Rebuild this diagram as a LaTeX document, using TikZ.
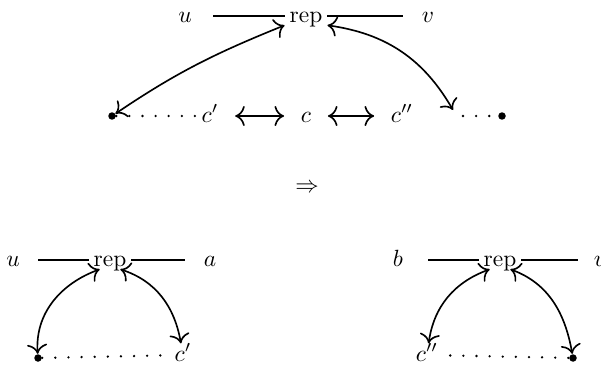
\documentclass[tikz,border=0pt]{standalone}
\usepackage{amsmath,amssymb}
\usepackage{xcolor}
\usepackage{tikz}
\usetikzlibrary{arrows.meta,calc}

\begin{document}
\begin{tikzpicture}[
    x=0.015cm, y=-0.015cm,
    var/.style={inner xsep=3pt, inner ysep=1pt, text height=1.5ex, text depth=0.25ex},
    word/.style={inner xsep=2pt, inner ysep=0pt, text height=1.5ex, text depth=0.25ex},
    pt/.style={circle, fill, inner sep=0pt, minimum size=3.2pt},
    bar/.style={line width=0.7pt},
    arr/.style={{To[scale=1.3]}-{To[scale=1.3]}, line width=0.7pt},
    dots/.style={line width=1.1pt, line cap=round, dash pattern=on 0pt off 5.6pt},
  ]
  \useasboundingbox (0,0) rectangle (601,371);
  % before
  \node[var]  (u)   at (185,16)  {$u$};
  \node[word] (rep) at (306,16)  {rep};
  \node[var]  (v)   at (428,16)  {$v$};
  \node[pt]   (dotL) at (112,116) {};
  \node[var]  (c1)  at (210,116) {$c'$};
  \node[var]  (c)   at (306,116) {$c$};
  \node[var]  (c2)  at (402,116) {$c''$};
  \node[pt]   (dotR) at (502,116) {};
  \coordinate (tipR)  at (453,110);
  \coordinate (gapR)  at (463,116);

  \draw[bar, shorten <=6pt] (u) -- (rep);
  \draw[bar, shorten >=4.7pt] (rep) -- (v);
  \draw[arr] (dotL) to[out=34, in=202] (rep.south west);
  \draw[arr] (rep.south east) to[out=-8, in=120] (tipR);
  \draw[dots, shorten >=-4pt] (dotL) -- (c1);
  \draw[dots] (gapR) -- (dotR);
  \draw[arr, shorten <=4pt, shorten >=4pt] (c1) -- (c);
  \draw[arr, shorten <=4pt, shorten >=4pt] (c) -- (c2);

  \node (imp) at (307,188) {$\Rightarrow$};

  % after, left part
  \node[var]  (lu)   at (13,260)  {$u$};
  \node[word] (lrep) at (110,260) {rep};
  \node[var]  (la)   at (210,260) {$a$};
  \node[pt]   (ldot) at (38,358)  {};
  \node[var]  (lc)   at (183,355) {$c'$};

  \draw[bar, shorten <=4.7pt] (lu) -- (lrep);
  \draw[bar, shorten >=4.7pt] (lrep) -- (la);
  \draw[arr] (ldot) to[out=94, in=200] (lrep.-138);
  \draw[arr] (lrep.-42) to[out=-18, in=100] (lc);
  \draw[dots, shorten >=-2pt] (ldot) -- (lc);

  % after, right part
  \node[var]  (rb)   at (398,260) {$b$};
  \node[word] (rrep) at (500,260) {rep};
  \node[var]  (rv)   at (600,260) {$v$};
  \node[var]  (rc)   at (427,355) {$c''$};
  \node[pt]   (rdot) at (573,358) {};

  \draw[bar, shorten <=7.6pt] (rb) -- (rrep);
  \draw[bar, shorten >=3.4pt] (rrep) -- (rv);
  \draw[arr] (rc) to[out=82, in=200] (rrep.-138);
  \draw[arr] (rrep.-42) to[out=-20, in=100] (rdot);
  \draw[dots, shorten <=2pt] (rc) -- (rdot);
\end{tikzpicture}
\end{document}
